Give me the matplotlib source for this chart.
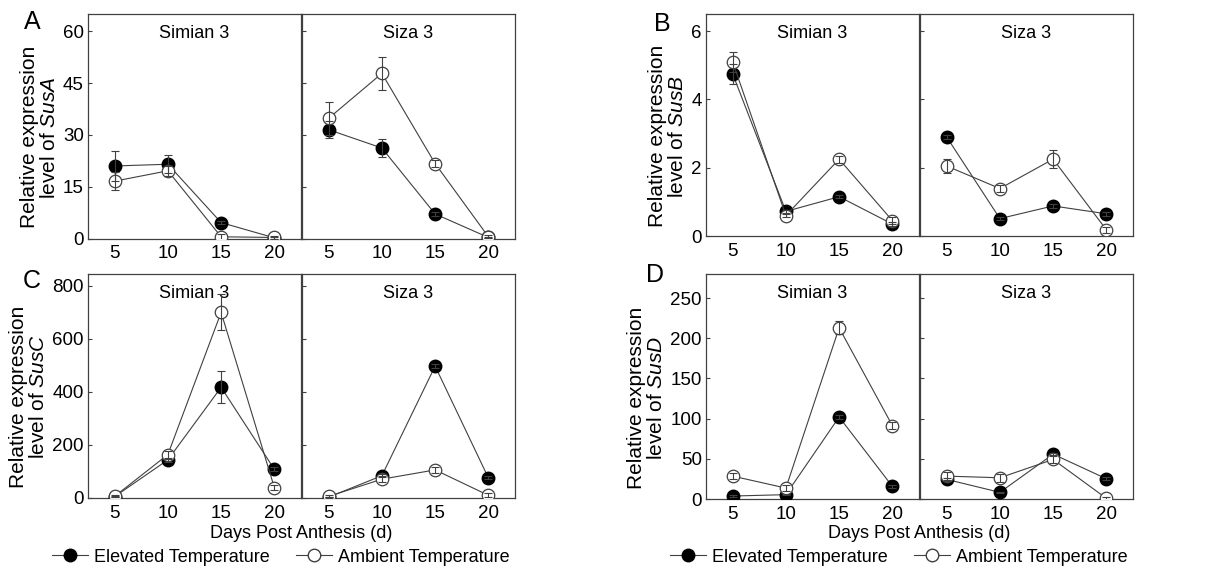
import matplotlib.pyplot as plt

plt.rcParams['font.family'] = ['Liberation Sans', 'DejaVu Sans']
plt.rcParams['font.size'] = 13
plt.rcParams['mathtext.fontset'] = 'custom'
plt.rcParams['mathtext.rm'] = 'Liberation Sans'
plt.rcParams['mathtext.it'] = 'Liberation Sans:italic'

days = [5, 10, 15, 20]
cultivars = ['Simian 3', 'Siza 3']
genes = ['SusA', 'SusB', 'SusC', 'SusD']
panel_letters = ['A', 'B', 'C', 'D']

# elevated / ambient means and errors, per gene, per cultivar
susA_elev = [[21.0, 21.5, 4.6, 0.2], [31.5, 26.2, 7.1, 0.3]]
susA_elev_err = [[4.4, 2.6, 0.5, 0.2], [2.5, 2.6, 0.6, 0.2]]
susA_amb = [[16.6, 19.6, 0.5, 0.3], [34.8, 47.8, 21.7, 0.5]]
susA_amb_err = [[2.6, 1.5, 0.8, 0.3], [4.7, 4.8, 1.0, 0.4]]

susB_elev = [[4.75, 0.72, 1.15, 0.35], [2.9, 0.51, 0.88, 0.65]]
susB_elev_err = [[0.3, 0.05, 0.05, 0.05], [0.05, 0.05, 0.05, 0.05]]
susB_amb = [[5.1, 0.6, 2.25, 0.45], [2.05, 1.39, 2.25, 0.18]]
susB_amb_err = [[0.3, 0.05, 0.1, 0.1], [0.2, 0.1, 0.27, 0.08]]

susC_elev = [[4, 143, 417, 107], [2, 83, 497, 75]]
susC_elev_err = [[3, 8, 60, 8], [2, 6, 8, 6]]
susC_amb = [[5, 163, 700, 38], [5, 70, 105, 9]]
susC_amb_err = [[4, 15, 68, 10], [4, 12, 12, 8]]

susD_elev = [[3.7, 5.4, 102, 15.7], [24.4, 8.3, 55.8, 25.2]]
susD_elev_err = [[1, 1, 3, 2], [2, 1, 2, 2]]
susD_amb = [[28.5, 13.6, 213, 91.3], [28.5, 26.4, 49.2, 0.8]]
susD_amb_err = [[4, 4, 8, 4], [5, 5, 5, 2]]

elev_all = [susA_elev, susB_elev, susC_elev, susD_elev]
elev_err_all = [susA_elev_err, susB_elev_err, susC_elev_err, susD_elev_err]
amb_all = [susA_amb, susB_amb, susC_amb, susD_amb]
amb_err_all = [susA_amb_err, susB_amb_err, susC_amb_err, susD_amb_err]

yticks_all = [[0, 15, 30, 45, 60], [0, 2, 4, 6], [0, 200, 400, 600, 800],
              [0, 50, 100, 150, 200, 250]]
ylims = [65, 6.5, 845, 280]

W, H = 1220, 566
# pixel boxes: (left of first axes, top, bottom)
boxes = [(88, 14, 238.5), (706, 14, 236), (88, 274, 497.7), (706, 274, 499)]
letter_pos = [(32, 22), (662, 24), (32, 281), (655, 275)]
ax_w = 213

fig = plt.figure(figsize=(12.2, 5.66), dpi=100)
edge = '#404040'
ms = 9

for g in range(4):
    x0, top, bot = boxes[g]
    h_px = bot - top
    for c in range(2):
        left = (x0 + c * (ax_w + 1)) / W
        ax = fig.add_axes([left, 1 - bot / H, ax_w / W, h_px / H])
        ax.plot(days, elev_all[g][c], '-o', color=edge, lw=0.8, ms=ms,
                mfc='black', mec='black', zorder=3)
        ax.plot(days, amb_all[g][c], '-o', color=edge, lw=0.8, ms=ms,
                mfc='white', mec=edge, mew=0.9, zorder=4)
        # error bars sit on top of the markers
        ax.errorbar(days, elev_all[g][c], yerr=elev_err_all[g][c], fmt='none',
                    ecolor=edge, capsize=3, elinewidth=0.8, capthick=0.8, zorder=5)
        ax.errorbar(days, amb_all[g][c], yerr=amb_err_all[g][c], fmt='none',
                    ecolor=edge, capsize=3, elinewidth=0.8, capthick=0.8, zorder=5)
        ax.set_xlim(2.5, 22.5)
        ax.set_ylim(0, ylims[g])
        ax.set_xticks(days)
        ax.set_yticks(yticks_all[g])
        ax.tick_params(axis='x', length=0, pad=5, labelsize=13.5)
        ax.tick_params(axis='y', direction='in', length=3, width=0.8,
                       color=edge, labelsize=13.5, pad=3)
        for s in ax.spines.values():
            s.set_color(edge)
            s.set_linewidth(0.9)
        if c == 1:
            ax.set_yticklabels([])
        else:
            ax.set_ylabel('Relative expression\nlevel of $\\it{' + genes[g] + '}$',
                          fontsize=15, linespacing=1.05, labelpad=3)
            ax.yaxis.label.set_y(0.5 - 11 / h_px)
        ax.text(0.5, 1 - 19 / h_px, cultivars[c], transform=ax.transAxes,
                ha='center', va='center', fontsize=13)
        if g >= 2 and c == 0:
            fig.text((x0 + ax_w) / W, 1 - 534 / H, 'Days Post Anthesis (d)',
                     ha='center', va='center', fontsize=13)

    lxp, lyp = letter_pos[g]
    fig.text(lxp / W, 1 - lyp / H, panel_letters[g],
             ha='center', va='center', fontsize=18)

    if g >= 2:
        # legend below each bottom panel
        lx = x0 - 36
        ly = 1 - 557 / H
        h1, = fig.axes[0].plot([], [], '-o', color=edge, lw=0.8, ms=ms,
                               mfc='black', mec='black')
        h2, = fig.axes[0].plot([], [], '-o', color=edge, lw=0.8, ms=ms,
                               mfc='white', mec=edge)
        fig.legend([h1, h2], ['Elevated Temperature', 'Ambient Temperature'],
                   loc='center left', bbox_to_anchor=(lx / W, ly), ncol=2,
                   frameon=False, fontsize=13, handlelength=2.0,
                   handletextpad=0.3, columnspacing=1.5, borderpad=0,
                   borderaxespad=0)

fig.savefig('out.png', dpi=100)
